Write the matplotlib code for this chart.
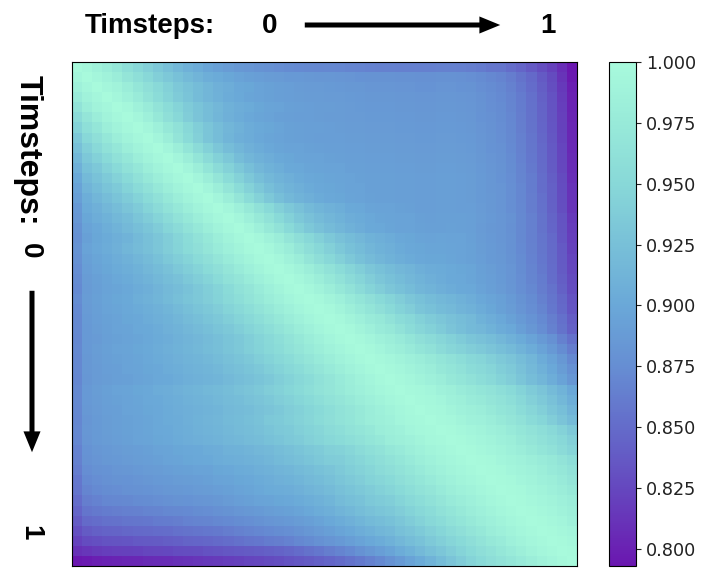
import numpy as np
import matplotlib
matplotlib.use("Agg")
import matplotlib.pyplot as plt
from matplotlib.colors import LinearSegmentedColormap
from matplotlib.patches import FancyArrowPatch, ArrowStyle

# similarity between timesteps, in thousandths (row = timestep i, col = timestep j)
sim_milli = [
    [1000, 996, 988, 980, 971, 960, 951, 942, 933, 925, 917, 910, 904, 898, 893, 889, 885, 883, 880, 878, 876, 874, 873, 872, 871, 871, 870, 869, 868, 867, 866, 866, 865, 865, 865, 865, 866, 866, 865, 864, 861, 858, 857, 852, 846, 838, 830, 821, 809, 793],
    [995, 1000, 995, 988, 980, 969, 960, 950, 941, 933, 926, 919, 913, 907, 903, 899, 896, 893, 891, 889, 888, 886, 886, 885, 884, 884, 883, 882, 881, 880, 880, 880, 879, 879, 878, 878, 879, 879, 878, 877, 874, 871, 868, 863, 856, 848, 838, 827, 813, 795],
    [987, 995, 1000, 995, 989, 980, 970, 961, 952, 943, 934, 928, 921, 915, 909, 906, 901, 899, 895, 894, 892, 891, 889, 888, 888, 887, 886, 885, 885, 883, 883, 883, 882, 882, 881, 881, 882, 882, 881, 880, 877, 874, 871, 866, 859, 851, 841, 830, 816, 798],
    [978, 988, 995, 1000, 995, 986, 977, 966, 956, 946, 937, 929, 921, 915, 910, 905, 902, 898, 896, 894, 892, 891, 890, 889, 889, 888, 888, 887, 886, 885, 885, 885, 884, 884, 883, 883, 884, 884, 883, 882, 879, 876, 873, 868, 861, 853, 843, 832, 818, 800],
    [966, 980, 989, 995, 1000, 996, 987, 978, 966, 956, 946, 937, 929, 922, 916, 910, 906, 903, 899, 897, 895, 893, 892, 891, 890, 890, 889, 888, 887, 886, 886, 886, 885, 885, 884, 884, 885, 885, 884, 883, 880, 877, 874, 869, 862, 854, 844, 833, 819, 801],
    [955, 969, 980, 989, 996, 1000, 994, 984, 972, 961, 950, 939, 930, 922, 915, 909, 905, 901, 898, 896, 893, 892, 891, 891, 890, 889, 889, 888, 888, 887, 887, 887, 886, 886, 885, 885, 886, 886, 885, 884, 881, 878, 875, 870, 863, 855, 845, 834, 820, 802],
    [945, 960, 970, 981, 989, 996, 1000, 995, 985, 973, 962, 951, 940, 931, 923, 915, 910, 905, 902, 899, 897, 894, 893, 892, 892, 891, 890, 889, 889, 888, 888, 888, 887, 887, 886, 886, 887, 887, 886, 885, 882, 879, 876, 871, 864, 856, 846, 835, 821, 803],
    [934, 950, 961, 971, 981, 989, 996, 1000, 993, 981, 967, 954, 942, 931, 922, 914, 908, 904, 900, 898, 895, 894, 893, 892, 891, 891, 891, 890, 890, 889, 889, 889, 888, 888, 887, 887, 888, 888, 887, 886, 883, 880, 877, 872, 865, 857, 847, 836, 822, 804],
    [925, 941, 952, 962, 971, 981, 989, 996, 1000, 993, 981, 968, 955, 943, 932, 922, 915, 909, 905, 901, 898, 896, 895, 894, 893, 892, 892, 891, 891, 890, 890, 890, 889, 889, 888, 888, 889, 889, 888, 887, 884, 881, 878, 873, 866, 858, 848, 837, 823, 805],
    [917, 933, 943, 953, 962, 971, 981, 989, 996, 1000, 993, 981, 968, 955, 943, 933, 923, 915, 910, 906, 902, 899, 897, 896, 895, 894, 893, 892, 892, 891, 891, 891, 890, 890, 889, 889, 890, 890, 889, 888, 885, 882, 879, 874, 867, 859, 849, 838, 824, 806],
    [909, 926, 934, 944, 953, 962, 971, 981, 989, 996, 1000, 993, 981, 968, 955, 944, 933, 924, 916, 911, 907, 902, 900, 898, 897, 896, 895, 893, 893, 892, 892, 892, 891, 891, 890, 890, 891, 891, 890, 889, 886, 883, 880, 875, 868, 860, 850, 839, 825, 807],
    [902, 919, 928, 936, 944, 953, 963, 972, 982, 989, 996, 1000, 993, 982, 969, 956, 944, 934, 924, 917, 912, 908, 903, 901, 899, 898, 897, 895, 894, 893, 893, 893, 892, 892, 891, 891, 892, 892, 891, 890, 887, 884, 881, 876, 869, 862, 852, 841, 827, 809],
    [896, 913, 921, 929, 936, 945, 954, 963, 972, 982, 989, 996, 1000, 993, 982, 969, 956, 944, 934, 924, 917, 912, 908, 903, 901, 899, 898, 896, 895, 893, 893, 893, 892, 892, 891, 891, 892, 892, 891, 890, 887, 884, 882, 877, 870, 862, 852, 842, 828, 811],
    [892, 907, 915, 922, 929, 937, 945, 954, 963, 972, 982, 990, 996, 1000, 993, 982, 969, 956, 944, 934, 924, 917, 912, 908, 903, 901, 899, 897, 896, 894, 893, 893, 892, 892, 891, 891, 892, 892, 891, 890, 887, 885, 882, 877, 870, 863, 853, 842, 829, 812],
    [886, 903, 909, 916, 923, 930, 937, 946, 955, 964, 972, 982, 990, 996, 1000, 995, 985, 974, 963, 953, 942, 934, 927, 919, 914, 910, 907, 902, 900, 897, 896, 895, 894, 893, 891, 891, 892, 892, 891, 891, 888, 885, 882, 877, 871, 863, 854, 843, 830, 813],
    [884, 899, 906, 911, 917, 923, 931, 938, 946, 955, 964, 973, 982, 990, 996, 1000, 995, 985, 974, 964, 953, 943, 934, 927, 920, 915, 911, 906, 903, 900, 898, 897, 895, 895, 893, 892, 893, 893, 893, 892, 889, 886, 883, 879, 872, 865, 856, 845, 833, 816],
    [880, 896, 901, 907, 912, 918, 924, 931, 938, 947, 955, 964, 973, 982, 990, 996, 1000, 995, 985, 974, 964, 953, 943, 934, 927, 920, 915, 910, 906, 902, 900, 898, 896, 895, 894, 893, 893, 894, 893, 892, 888, 885, 883, 878, 872, 865, 856, 846, 834, 818],
    [878, 893, 899, 903, 908, 912, 919, 925, 932, 939, 947, 956, 964, 973, 982, 990, 996, 1000, 996, 988, 979, 969, 959, 950, 942, 934, 927, 921, 916, 911, 908, 904, 901, 899, 897, 896, 897, 896, 895, 893, 889, 886, 883, 879, 872, 865, 857, 848, 835, 819],
    [880, 895, 900, 905, 909, 915, 920, 925, 932, 939, 946, 954, 961, 969, 977, 984, 991, 997, 1000, 996, 988, 979, 969, 959, 950, 942, 934, 926, 921, 915, 911, 908, 903, 901, 899, 898, 898, 897, 895, 894, 890, 887, 884, 879, 873, 866, 858, 849, 837, 821],
    [878, 893, 898, 902, 906, 910, 915, 920, 926, 933, 940, 946, 954, 961, 969, 977, 984, 991, 997, 1000, 996, 988, 979, 969, 959, 950, 942, 933, 926, 920, 915, 911, 907, 903, 901, 899, 899, 898, 896, 894, 891, 887, 885, 880, 874, 867, 859, 850, 838, 823],
    [876, 891, 895, 899, 903, 907, 911, 916, 921, 927, 933, 940, 946, 954, 961, 969, 977, 984, 991, 997, 1000, 996, 990, 982, 973, 965, 956, 947, 940, 932, 926, 921, 916, 913, 908, 905, 903, 902, 899, 898, 893, 890, 886, 882, 875, 868, 860, 851, 839, 825],
    [874, 889, 893, 897, 900, 903, 908, 912, 917, 922, 927, 934, 940, 946, 954, 962, 969, 977, 984, 991, 997, 1000, 996, 990, 982, 973, 965, 955, 947, 939, 932, 926, 921, 916, 912, 908, 905, 902, 900, 898, 894, 891, 887, 882, 876, 869, 862, 852, 841, 827],
    [873, 888, 892, 895, 898, 901, 904, 908, 913, 918, 923, 928, 934, 940, 946, 954, 962, 969, 977, 984, 991, 997, 1000, 996, 990, 982, 973, 964, 955, 946, 939, 932, 926, 921, 915, 912, 908, 905, 902, 900, 896, 892, 888, 883, 877, 871, 863, 855, 843, 829],
    [875, 889, 893, 897, 899, 902, 907, 910, 914, 919, 924, 929, 934, 939, 945, 952, 958, 966, 973, 979, 986, 992, 997, 1000, 997, 991, 984, 976, 968, 961, 953, 946, 939, 932, 926, 921, 917, 914, 910, 906, 901, 897, 893, 887, 880, 874, 866, 857, 847, 833],
    [873, 888, 892, 895, 898, 900, 903, 907, 910, 914, 919, 924, 929, 934, 939, 946, 952, 958, 966, 973, 979, 986, 992, 997, 1000, 997, 991, 983, 976, 968, 961, 953, 945, 939, 931, 926, 921, 918, 913, 910, 904, 899, 894, 889, 882, 876, 869, 859, 848, 835],
    [872, 887, 891, 894, 896, 899, 901, 904, 908, 911, 915, 920, 924, 929, 934, 940, 946, 952, 958, 966, 973, 979, 986, 992, 997, 1000, 997, 991, 985, 978, 972, 965, 956, 950, 943, 937, 932, 927, 922, 918, 911, 906, 901, 894, 887, 881, 873, 864, 853, 840],
    [872, 886, 890, 893, 895, 897, 900, 902, 905, 909, 912, 916, 920, 924, 929, 934, 940, 946, 952, 958, 966, 973, 979, 986, 992, 997, 1000, 997, 991, 985, 978, 972, 964, 956, 949, 943, 937, 930, 924, 919, 916, 911, 905, 901, 892, 884, 876, 866, 856, 843],
    [871, 886, 888, 892, 894, 896, 898, 901, 903, 906, 910, 913, 916, 920, 924, 929, 934, 940, 946, 952, 958, 966, 973, 979, 986, 992, 997, 1000, 998, 993, 987, 982, 975, 968, 961, 955, 949, 943, 937, 931, 927, 922, 916, 910, 903, 895, 887, 878, 866, 854],
    [872, 886, 890, 893, 895, 897, 899, 902, 905, 908, 911, 914, 917, 921, 924, 929, 934, 940, 945, 950, 956, 963, 969, 975, 982, 988, 993, 998, 1000, 998, 993, 987, 982, 975, 968, 962, 955, 949, 944, 939, 935, 930, 924, 919, 912, 904, 895, 886, 875, 863],
    [871, 885, 889, 892, 894, 896, 898, 900, 903, 906, 909, 912, 914, 917, 921, 925, 929, 934, 940, 945, 950, 956, 963, 969, 975, 982, 988, 993, 998, 1000, 998, 995, 989, 985, 980, 974, 968, 962, 957, 951, 947, 941, 935, 930, 922, 915, 904, 895, 885, 872],
    [871, 885, 888, 891, 892, 895, 897, 899, 901, 904, 907, 910, 912, 914, 917, 922, 925, 929, 934, 940, 945, 950, 956, 963, 969, 975, 982, 988, 993, 998, 1000, 998, 995, 989, 985, 980, 973, 968, 962, 956, 952, 947, 940, 935, 927, 918, 910, 900, 890, 878],
    [870, 884, 888, 890, 892, 893, 896, 898, 900, 902, 905, 908, 910, 912, 914, 918, 922, 925, 929, 934, 940, 945, 950, 956, 963, 969, 975, 982, 988, 993, 998, 1000, 998, 995, 989, 985, 980, 973, 968, 962, 957, 952, 945, 939, 931, 923, 915, 906, 895, 884],
    [872, 886, 890, 893, 895, 897, 899, 901, 904, 906, 909, 912, 914, 917, 919, 923, 927, 930, 934, 939, 943, 948, 953, 958, 964, 969, 974, 980, 985, 990, 995, 998, 1000, 998, 996, 992, 987, 983, 978, 973, 968, 964, 958, 953, 945, 937, 930, 920, 912, 900],
    [872, 886, 889, 892, 894, 896, 898, 900, 902, 905, 907, 910, 912, 914, 917, 920, 923, 927, 930, 934, 939, 943, 948, 953, 958, 964, 969, 974, 980, 985, 990, 995, 998, 1000, 998, 996, 992, 987, 983, 978, 974, 969, 964, 958, 951, 942, 935, 927, 917, 907],
    [871, 885, 888, 891, 892, 895, 897, 899, 901, 903, 906, 908, 910, 912, 914, 918, 920, 923, 927, 930, 934, 939, 943, 948, 953, 958, 964, 969, 974, 980, 985, 990, 995, 998, 1000, 998, 996, 991, 987, 983, 979, 974, 968, 964, 956, 949, 941, 932, 924, 913],
    [870, 883, 887, 890, 892, 894, 896, 898, 900, 903, 905, 908, 911, 913, 915, 919, 921, 924, 928, 933, 936, 940, 944, 949, 954, 959, 964, 968, 974, 979, 983, 987, 992, 996, 998, 1000, 998, 996, 991, 987, 984, 980, 974, 969, 962, 954, 948, 939, 930, 920],
    [871, 884, 887, 890, 892, 894, 896, 898, 900, 902, 905, 907, 910, 912, 914, 917, 920, 922, 925, 929, 933, 936, 941, 945, 949, 955, 958, 964, 968, 973, 979, 983, 987, 992, 996, 998, 1000, 999, 996, 992, 989, 985, 981, 975, 970, 964, 958, 952, 944, 935],
    [870, 883, 887, 889, 891, 893, 895, 897, 899, 901, 903, 906, 908, 910, 912, 915, 917, 920, 922, 926, 929, 933, 937, 942, 946, 950, 954, 958, 963, 968, 973, 979, 983, 987, 991, 996, 998, 1000, 999, 996, 992, 989, 984, 981, 974, 969, 963, 957, 950, 942],
    [867, 881, 884, 886, 888, 890, 891, 893, 895, 897, 899, 901, 902, 904, 906, 910, 911, 913, 916, 918, 922, 925, 929, 933, 937, 942, 944, 949, 955, 960, 965, 971, 976, 981, 986, 991, 995, 998, 1000, 999, 996, 992, 989, 984, 980, 974, 968, 962, 955, 947],
    [866, 879, 882, 885, 886, 888, 890, 891, 893, 895, 897, 899, 900, 902, 904, 907, 908, 910, 912, 915, 919, 922, 925, 929, 933, 938, 939, 944, 949, 954, 959, 965, 970, 976, 981, 986, 991, 995, 998, 1000, 999, 997, 993, 990, 986, 982, 977, 972, 966, 958],
    [863, 876, 879, 881, 883, 884, 886, 888, 889, 891, 893, 894, 895, 896, 899, 901, 903, 905, 908, 910, 913, 915, 919, 922, 926, 930, 935, 940, 944, 949, 955, 959, 965, 970, 976, 981, 986, 991, 995, 998, 1000, 999, 997, 993, 990, 986, 982, 976, 971, 964],
    [859, 873, 876, 878, 880, 881, 882, 884, 886, 887, 889, 890, 891, 893, 895, 897, 899, 901, 903, 906, 909, 911, 914, 918, 921, 925, 931, 935, 939, 945, 949, 953, 959, 964, 970, 975, 981, 986, 991, 995, 998, 1000, 999, 997, 993, 989, 985, 981, 975, 969],
    [857, 869, 873, 875, 876, 878, 879, 881, 882, 884, 885, 886, 888, 889, 891, 893, 896, 898, 901, 903, 905, 906, 909, 913, 916, 920, 925, 929, 934, 938, 943, 947, 953, 958, 964, 969, 975, 981, 986, 990, 995, 998, 1000, 999, 997, 993, 989, 985, 980, 974],
    [852, 864, 867, 870, 871, 872, 874, 875, 877, 878, 880, 881, 882, 883, 885, 888, 891, 893, 895, 897, 899, 901, 903, 907, 910, 914, 920, 924, 928, 933, 937, 940, 946, 952, 957, 963, 969, 975, 980, 985, 990, 995, 998, 1000, 999, 996, 993, 989, 984, 979],
    [846, 857, 860, 862, 864, 865, 866, 868, 869, 871, 872, 873, 875, 876, 878, 880, 883, 885, 887, 890, 892, 894, 897, 900, 904, 908, 913, 917, 922, 927, 931, 934, 939, 945, 950, 956, 963, 968, 974, 980, 985, 990, 994, 998, 1000, 999, 996, 992, 988, 983],
    [839, 849, 852, 854, 855, 857, 858, 859, 861, 862, 864, 867, 868, 869, 871, 873, 875, 877, 879, 882, 884, 886, 889, 892, 896, 900, 905, 909, 914, 919, 923, 926, 932, 938, 944, 950, 956, 962, 968, 974, 979, 985, 990, 994, 998, 1000, 999, 996, 992, 987],
    [831, 839, 842, 844, 845, 847, 848, 849, 851, 852, 854, 856, 857, 859, 860, 863, 866, 868, 870, 873, 875, 877, 880, 884, 888, 892, 897, 901, 906, 910, 915, 918, 925, 930, 936, 942, 948, 955, 961, 967, 973, 979, 984, 990, 994, 998, 1000, 999, 996, 992],
    [822, 828, 831, 833, 834, 835, 837, 838, 839, 841, 842, 845, 846, 847, 849, 852, 854, 857, 859, 862, 864, 867, 871, 874, 878, 882, 886, 891, 895, 900, 905, 910, 916, 922, 928, 935, 941, 947, 953, 959, 966, 972, 978, 984, 989, 994, 998, 1000, 999, 996],
    [810, 814, 817, 819, 820, 821, 822, 824, 825, 826, 828, 829, 830, 832, 834, 836, 837, 839, 840, 842, 844, 847, 851, 855, 859, 864, 868, 873, 879, 885, 891, 897, 904, 911, 918, 925, 932, 939, 946, 953, 959, 965, 971, 977, 983, 989, 994, 998, 1000, 999],
    [793, 796, 799, 801, 802, 803, 804, 806, 807, 808, 810, 812, 814, 816, 817, 819, 821, 823, 825, 827, 830, 833, 836, 839, 842, 846, 850, 855, 860, 866, 872, 879, 887, 895, 903, 912, 921, 930, 938, 946, 953, 959, 965, 970, 976, 982, 988, 993, 998, 1000],
]

# colour stops
stop_values = [0.793, 0.800, 0.825, 0.850, 0.875, 0.900, 0.925, 0.950, 0.975, 1.000]
stop_colors = ["#6a17b0", "#6a22b3", "#6548bf", "#646cca", "#668ed3",
               "#6aa8d8", "#78c0d8", "#88d8d8", "#98ead9", "#a8fadc"]
cbar_ticks = [0.800, 0.825, 0.850, 0.875, 0.900, 0.925, 0.950, 0.975, 1.000]

label_text = "Timsteps:"
start_label = "0"
end_label = "1"

sim = np.array(sim_milli) / 1000.0
vmin, vmax = sim.min(), sim.max()

pos = [(v - vmin) / (vmax - vmin) for v in stop_values]
pos[0], pos[-1] = 0.0, 1.0
cmap = LinearSegmentedColormap.from_list("sim", list(zip(pos, stop_colors)))

W, H = 720, 586
fig = plt.figure(figsize=(W / 100, H / 100), dpi=100)

def fx(px):
    return px / W

def fy(py):
    return 1 - py / H

ax = fig.add_axes([fx(72), 20 / H, 505 / W, 504 / H])
im = ax.imshow(sim, cmap=cmap, aspect="auto", interpolation="nearest",
               vmin=vmin, vmax=vmax)
ax.set_xticks([])
ax.set_yticks([])

cax = fig.add_axes([fx(609), 20 / H, 27 / W, 504 / H])
cbar = fig.colorbar(im, cax=cax)
cbar.set_ticks(cbar_ticks)
cbar.set_ticklabels([f"{t:.3f}" for t in cbar_ticks])
cbar.ax.tick_params(labelsize=12.7, colors="#222222")

font = dict(family="Liberation Sans", weight="bold", color="black")

# top axis label
fig.text(fx(85), fy(33), label_text, fontsize=20, ha="left", va="baseline", **font)
fig.text(fx(262), fy(33), start_label, fontsize=20, ha="left", va="baseline", **font)
fig.text(fx(548), fy(33), end_label, fontsize=20, ha="center", va="baseline", **font)
style = ArrowStyle.Simple(head_length=0.5, head_width=0.41, tail_width=0.12)
fig.add_artist(FancyArrowPatch((fx(302), fy(25)), (fx(503), fy(25)),
                               transform=fig.transFigure, arrowstyle=style,
                               mutation_scale=30, color="black", lw=0))

# left axis label
fig.text(fx(28), fy(150), label_text, fontsize=23, rotation=270,
         ha="center", va="center", **font)
fig.text(fx(30), fy(251), start_label, fontsize=20, rotation=270,
         ha="center", va="center", **font)
fig.text(fx(30), fy(533), end_label, fontsize=20, rotation=270,
         ha="center", va="center", **font)
fig.add_artist(FancyArrowPatch((fx(32), fy(288)), (fx(32), fy(455)),
                               transform=fig.transFigure, arrowstyle=style,
                               mutation_scale=30, color="black", lw=0))

fig.savefig("out.png", dpi=100)
